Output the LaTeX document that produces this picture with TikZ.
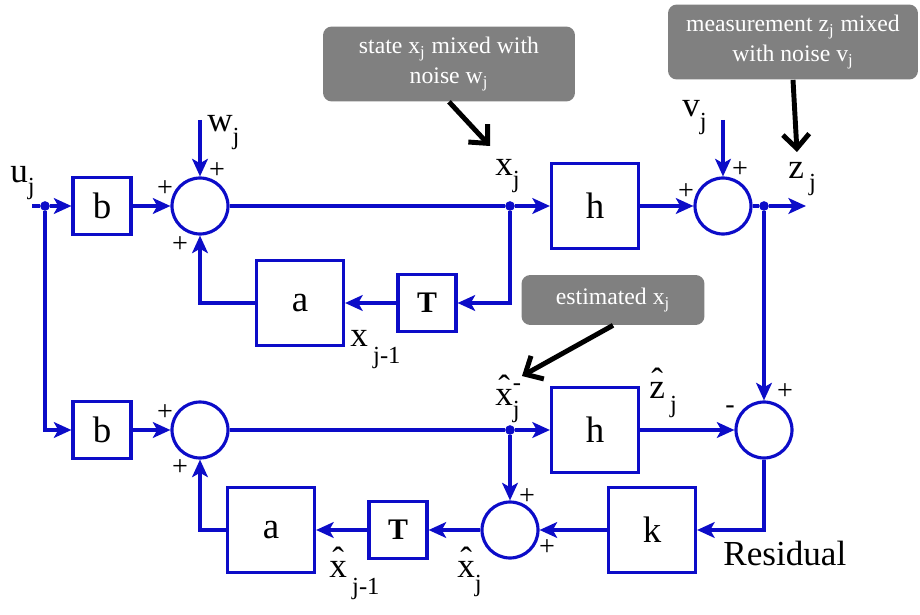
\documentclass[tikz,border=0pt]{standalone}
\usepackage{fontspec}
\setmainfont{Liberation Serif}
\usetikzlibrary{arrows.meta,positioning,calc}
\definecolor{sigblue}{RGB}{12,12,200}
\definecolor{notegray}{RGB}{128,128,128}
\newcommand{\sub}[2][7pt]{\raisebox{-#1}{\fontsize{14}{14}\selectfont #2}}
\newcommand{\hatted}[1]{\ooalign{#1\cr\hfil\raisebox{3pt}{ˆ}\hfil\cr}}
\tikzset{
  sig/.style={draw=sigblue,line width=1.8pt},
  flow/.style={sig,-{Stealth[length=10pt,width=9pt,inset=2.5pt]}},
  blk/.style={sig,fill=white,minimum width=1.74cm,minimum height=1.7cm,font=\fontsize{21}{24}\selectfont},
  sblk/.style={blk,minimum width=1.16cm,minimum height=1.14cm},
  tblk/.style={sblk,font=\fontsize{17}{20}\selectfont\bfseries},
  sumnode/.style={sig,circle,minimum size=1.12cm,inner sep=0pt},
  junc/.style={circle,fill=sigblue,inner sep=0pt,minimum size=5.5pt},
  sgn/.style={font=\fontsize{16}{16}\selectfont,inner sep=0pt},
  lbl/.style={font=\fontsize{20}{22}\selectfont,inner sep=0pt,anchor=base west},
  note/.style={fill=notegray,rounded corners=5pt,text=white,align=center,font=\fontsize{13.5}{17}\selectfont},
  pointer/.style={line width=2.8pt,-{Straight Barb[length=8pt,width=15pt]}}
}

\begin{document}
\begin{tikzpicture}[x=0.02cm,y=-0.02cm]
  \useasboundingbox (0,0) rectangle (920,615);
  % system (top)
  \node[sblk] (bA) at (102,206) {b};
  \node[sumnode] (sumA) at (200,206) {};
  \node[blk] (hA) at (595,206) {h};
  \node[sumnode] (sumB) at (723,206) {};
  \node[tblk] (TA) at (427,303) {T};
  \node[blk] (aA) at (300,303) {a};
  % estimator (bottom)
  \node[sblk] (bB) at (102,430) {b};
  \node[sumnode] (sumC) at (200,430) {};
  \node[blk] (hB) at (595,430) {h};
  \node[sumnode] (sumD) at (764,430) {};
  \node[blk] (kB) at (652,530) {k};
  \node[sumnode] (sumE) at (510,530) {};
  \node[tblk] (TB) at (398,530) {T};
  \node[blk] (aB) at (271,530) {a};
  % branch points and free ends
  \node[junc] (dU) at (45,206) {};
  \node[junc] (dX) at (510,206) {};
  \node[junc] (dZ) at (764,206) {};
  \node[junc] (dXh) at (510,430) {};
  \coordinate (uin) at (32,206);
  \coordinate (win) at (200,120);
  \coordinate (vin) at (723,120);
  \coordinate (zout) at (806,206);

  \draw[sig] (uin) -- (dU);
  \draw[flow] (dU) -- (bA);
  \draw[flow] (bA) -- (sumA);
  \draw[flow] (win) -- (sumA);
  \draw[sig] (sumA) -- (dX);
  \draw[flow] (dX) -- (hA);
  \draw[flow] (hA) -- (sumB);
  \draw[flow] (vin) -- (sumB);
  \draw[sig] (sumB) -- (dZ);
  \draw[flow] (dZ) -- (zout);
  \draw[flow] (dX) |- (TA);
  \draw[flow] (TA) -- (aA);
  \draw[flow] (aA) -| (sumA);

  \draw[flow] (dU) |- (bB);
  \draw[flow] (bB) -- (sumC);
  \draw[sig] (sumC) -- (dXh);
  \draw[flow] (dXh) -- (hB);
  \draw[flow] (hB) -- (sumD);
  \draw[flow] (dZ) -- (sumD);
  \draw[flow] (sumD) |- (kB);
  \draw[flow] (kB) -- (sumE);
  \draw[flow] (dXh) -- (sumE);
  \draw[flow] (sumE) -- (TB);
  \draw[flow] (TB) -- (aB);
  \draw[flow] (aB) -| (sumC);

  % signs at the summing points
  \foreach \n/\x/\y/\s in {pA1/217/171/+, pA2/165/189/+, pA3/180/245/+,
                           pB1/686/192/+, pB2/740/170/+,
                           pC1/165/413/+, pC2/180/468/+,
                           pD1/730/410/-, pD2/785/392/+,
                           pE1/527/497/+, pE2/547/548/+}
    \node[sgn] (\n) at (\x,\y) {\s};

  % signal names
  \node[lbl] (uj) at (10,182) {u\sub{j}};
  \node[lbl] (wj) at (207,132) {w\sub{j}};
  \node[lbl] (xj) at (495,175) {x\sub{j}};
  \node[lbl] (vj) at (682,117) {v\sub{j}};
  \node[lbl] (zj) at (788,178) {z\hspace{3pt}\sub{j}};
  \node[lbl] (xjm) at (350,346) {x\hspace{3pt}\sub[10pt]{j-1}};
  \node[lbl] (xhm) at (495,405) {\hatted{x}\rlap{\raisebox{8pt}{\fontsize{14}{14}\selectfont -}}\sub{j}};
  \node[lbl] (zh) at (649,398) {\hatted{z}\hspace{3pt}\sub[8pt]{j}};
  \node[lbl] (xh) at (457,577) {\hatted{x}\sub[8pt]{j}};
  \node[lbl] (xhjm) at (329,577) {\hatted{x}\hspace{3pt}\sub[10pt]{j-1}};
  \node[lbl] (res) at (723,565) {Residual};

  % call-outs
  \node[note,minimum width=5.04cm,minimum height=1.5cm] (nState) at (449,64) {state x\textsubscript{j} mixed with\\noise w\textsubscript{j}};
  \node[note,minimum width=5cm,minimum height=1.5cm] (nMeas) at (793,42) {measurement z\textsubscript{j} mixed\\with noise v\textsubscript{j}};
  \node[note,minimum width=3.66cm,minimum height=1cm] (nEst) at (613,300) {estimated x\textsubscript{j}};
  \coordinate (pState) at (490,146);
  \coordinate (pMeas) at (797,152);
  \coordinate (pEst) at (522,376);
  \draw[pointer] (nState.south) -- (pState);
  \draw[pointer] (nMeas.south) -- (pMeas);
  \draw[pointer] (nEst.south) -- (pEst);
\end{tikzpicture}
\end{document}
